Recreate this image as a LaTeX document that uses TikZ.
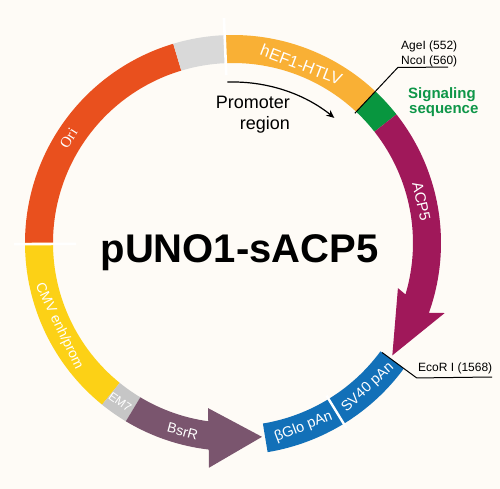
\documentclass[tikz,border=0pt]{standalone}
\usepackage{fontspec}
\setmainfont{Liberation Sans}
\newfontfamily\orifont{Liberation Serif}
\usetikzlibrary{arrows.meta}
\definecolor{bgc}{HTML}{FEFBF6}
\definecolor{oric}{HTML}{E9501E}
\definecolor{greyc}{HTML}{D9D9D9}
\definecolor{hefc}{HTML}{F9B035}
\definecolor{sigc}{HTML}{08963F}
\definecolor{acpc}{HTML}{A0185A}
\definecolor{bluec}{HTML}{1270B8}
\definecolor{bsrc}{HTML}{7A556E}
\definecolor{em7c}{HTML}{C6C6C6}
\definecolor{cmvc}{HTML}{FCD116}
\definecolor{sigtxt}{HTML}{0E9648}
\newcommand\plseg[5]{\fill[#1] (#2:#5) arc[start angle=#2,end angle=#3,radius=#5] -- (#3:#4) arc[start angle=#3,end angle=#2,radius=#4] -- cycle;}
\tikzset{
  seglabel/.style={text=white, inner sep=0pt, anchor=center},
  tick/.style={draw=white, line width=2.6pt},
  leader/.style={draw=black, line width=1pt},
  smalltxt/.style={font=\fontsize{12}{14}\selectfont, inner sep=0pt, anchor=base west}
}
\begin{document}
\begin{tikzpicture}[x=1pt,y=1pt]
\fill[bgc] (-233,-246) rectangle (267,243);
\useasboundingbox (-233,-246) rectangle (267,243);
% ring segments
\plseg{oric}{106.7}{180}{180}{208}
\plseg{greyc}{92.3}{106.7}{180}{208}
\plseg{hefc}{46.8}{92.3}{180}{208}
\plseg{sigc}{38.2}{46.8}{180}{208}
\plseg{cmvc}{180}{231}{180}{208}
\plseg{em7c}{231}{239}{180}{208}
% ACP5 arrow
\fill[acpc] (38.2:208) arc[start angle=38.2,end angle=-19.6,radius=208] -- (-18.3:223) -- (-35.2:195) -- (-15.3:171) -- (-16.6:180) arc[start angle=-16.6,end angle=38.2,radius=180] -- cycle;
% BsrR arrow
\fill[bsrc] (239:208) arc[start angle=239,end angle=263.3,radius=208] -- (263.9:226) -- (278.5:196) -- (261.4:167) -- (262.1:180) arc[start angle=262.1,end angle=239,radius=180] -- cycle;
% blue boxes
\plseg{bluec}{-80.6}{-36.3}{183}{212}
\draw[draw=white, line width=2.4pt] (-58.5:179) -- (-58.5:217);
% ticks
\draw[tick] (92.3:168) -- (92.3:225);
\draw[tick] (180.3:157) -- (180.3:219);
% segment labels
\node[seglabel, rotate=-21, font=\fontsize{16.5}{18}\selectfont] (lhef) at (69:191) {hEF1-HTLV};
\node[seglabel, rotate=-77.6, font=\fontsize{15}{18}\selectfont] (lacp) at (12.4:193) {ACP5};
\node[seglabel, rotate=43, font=\fontsize{14.5}{18}\selectfont] (lsv) at (-47:198) {SV40 pAn};
\node[seglabel, rotate=21, font=\fontsize{14.5}{18}\selectfont] (lbg) at (-69:197) {βGlo pAn};
\node[seglabel, rotate=-15, font=\fontsize{14}{18}\selectfont] (lbsr) at (-105:195) {BsrR};
\node[seglabel, rotate=-35.4, font=\fontsize{12}{14}\selectfont] (lem) at (-125.4:195) {EM7};
\node[seglabel, rotate=-64.4, font=\fontsize{14}{18}\selectfont] (lcmv) at (-154.4:193) {CMV enh/prom};
\node[seglabel, rotate=57.5, font=\orifont\fontsize{15}{18}\selectfont] (lori) at (147.5:195) {Ori};
% title
\node[inner sep=0pt, anchor=base, font=\bfseries\fontsize{40}{46}\selectfont] (title) at (6.5,-20) {pUNO1-sACP5};
% promoter
\node[inner sep=0pt, anchor=base east, font=\fontsize{18}{22}\selectfont] (prom1) at (57,134.7) {Promoter};
\node[inner sep=0pt, anchor=base east, font=\fontsize{18}{22}\selectfont] (prom2) at (57,113) {region};
\coordinate (pa0) at (92:161);
\draw[line width=1.2pt, -{Stealth[length=8pt,width=7pt]}] (pa0) arc[start angle=92,end angle=51,radius=161] coordinate (pa1);
% AgeI / NcoI
\coordinate (ag0) at (46.8:178);
\coordinate (ag1) at (46.8:241);
\coordinate (ag2) at (215,175.8);
\draw[leader] (ag0) -- (ag1) -- (ag2);
\node[smalltxt] (age) at (168,193) {AgeI (552)};
\node[smalltxt] (nco) at (168,178.6) {NcoI (560)};
% signaling
\node[inner sep=0pt, anchor=base west, text=sigtxt, font=\bfseries\fontsize{15}{18}\selectfont] (sig1) at (175,144) {Signaling};
\node[inner sep=0pt, anchor=base west, text=sigtxt, font=\bfseries\fontsize{15}{18}\selectfont] (sig2) at (176,129) {sequence};
% EcoRI
\coordinate (ec0) at (-36.3:185);
\coordinate (ec1) at (-36.3:228);
\coordinate (ec2) at (259,-134);
\draw[leader] (ec0) -- (ec1) -- (ec2);
\node[smalltxt] (eco) at (185,-128.7) {EcoR I (1568)};
\end{tikzpicture}
\end{document}
